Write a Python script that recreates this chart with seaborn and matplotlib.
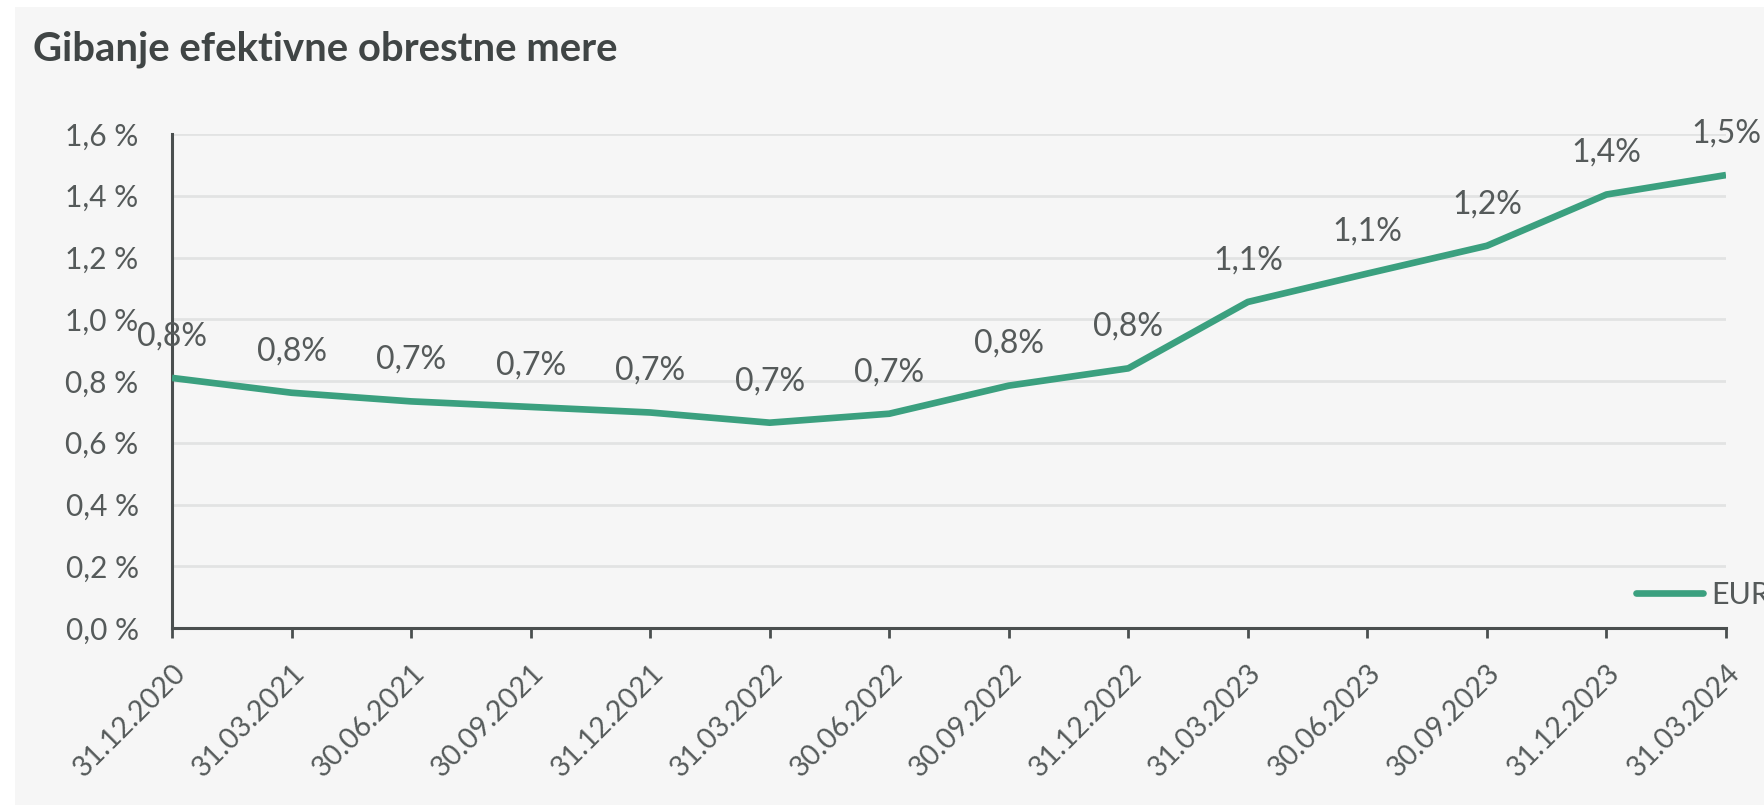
import matplotlib
matplotlib.use("Agg")
import matplotlib.pyplot as plt
import matplotlib.patches as mpatches
from matplotlib.lines import Line2D
import seaborn as sns
import pandas as pd

# Quarter-end dates and effective interest rate (EUR, in %)
dates = ["31.12.2020", "31.03.2021", "30.06.2021", "30.09.2021", "31.12.2021",
         "31.03.2022", "30.06.2022", "30.09.2022", "31.12.2022", "31.03.2023",
         "30.06.2023", "30.09.2023", "31.12.2023", "31.03.2024"]
eur_rate = [0.810, 0.762, 0.734, 0.716, 0.698, 0.665, 0.694, 0.785, 0.841,
            1.056, 1.148, 1.238, 1.404, 1.467]
y_ticks = [0.0, 0.2, 0.4, 0.6, 0.8, 1.0, 1.2, 1.4, 1.6]

df = pd.DataFrame({"pos": range(len(dates)), "date": dates, "rate": eur_rate})

W, H = 1765, 807
sns.set_style("white")
plt.rcParams["font.family"] = ["Lato", "DejaVu Sans"]

LINE = "#3ba07f"
TEXT = "#555a5a"
SPINE = "#4a4f4f"
GRID = "#e2e3e3"

fig = plt.figure(figsize=(W / 100, H / 100), dpi=100, facecolor="white")
# light panel behind the chart
fig.patches.append(mpatches.Rectangle((15 / W, 2 / H), 1 - 15 / W, 1 - 9 / H,
                                      transform=fig.transFigure,
                                      facecolor="#f6f6f6", edgecolor="none", zorder=-5))

ax = fig.add_axes([172 / W, 1 - 628 / H, (1726 - 172) / W, (628 - 134) / H])
ax.set_facecolor("none")

sns.lineplot(data=df, x="pos", y="rate", ax=ax, color=LINE, linewidth=4.8,
             legend=False, zorder=3)
ax.lines[0].set_solid_capstyle("butt")
ax.lines[0].set_solid_joinstyle("round")

ax.set_xlim(0, len(dates) - 1)
ax.set_ylim(0, 1.6)
ax.set_yticks(y_ticks)
ax.set_yticklabels([f"{v:.1f} %".replace(".", ",") for v in y_ticks])
ax.set_xticks(range(len(dates)))
ax.set_xticklabels(dates, rotation=45, ha="right", rotation_mode="anchor")

ax.yaxis.grid(True, color=GRID, linewidth=2.0)
ax.set_axisbelow(True)
ax.set_xlabel("")
ax.set_ylabel("")

for side in ["top", "right"]:
    ax.spines[side].set_visible(False)
for side in ["left", "bottom"]:
    ax.spines[side].set_color(SPINE)
    ax.spines[side].set_linewidth(2.2)

ax.tick_params(axis="y", length=0, pad=24, labelsize=21.5, labelcolor=TEXT)
ax.tick_params(axis="x", length=7.5, width=2.0, color=SPINE, pad=15,
               labelsize=20.5, labelcolor=TEXT, direction="out", bottom=True)

# value labels above each point
for i, v in enumerate(eur_rate):
    ax.annotate(f"{v:.1f}%".replace(".", ","), (i, v), xytext=(0, 23.5),
                textcoords="offset points", ha="center", va="baseline",
                fontsize=23, color=TEXT, zorder=4, annotation_clip=False)

handle = Line2D([], [], color=LINE, linewidth=4.8, solid_capstyle="round")
ax.legend([handle], ["EUR"], loc="center left",
          bbox_to_anchor=(1636 / W, 1 - 595 / H), bbox_transform=fig.transFigure,
          frameon=False, fontsize=22, labelcolor=TEXT, handlelength=2.2,
          handletextpad=0.25, borderpad=0, borderaxespad=0)

fig.text(33 / W, 1 - 60 / H, "Gibanje efektivne obrestne mere", fontsize=28.8,
         fontweight="bold", color="#404545", ha="left", va="baseline")

fig.savefig("out.png", dpi=100, facecolor=fig.get_facecolor())
